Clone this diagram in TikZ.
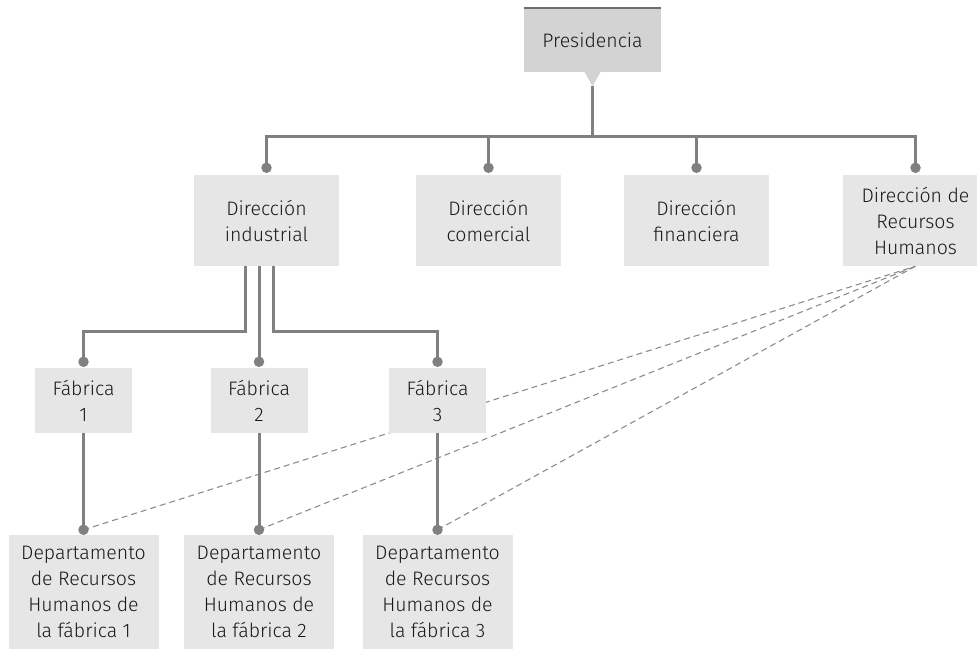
\documentclass[tikz,border=0pt]{standalone}
\usepackage{fontspec}
\setmainfont{Fira Sans}[UprightFont=* Light]
\usetikzlibrary{calc,backgrounds}
\definecolor{linegray}{HTML}{808080}
\definecolor{dashgray}{HTML}{8C8C8C}
\definecolor{boxgray}{HTML}{E6E6E6}
\definecolor{presgray}{HTML}{D3D3D3}
\definecolor{topgray}{HTML}{6E6E6E}

\begin{document}
\begin{tikzpicture}[
  x=1pt,y=-1pt,
  line join=miter,
  box/.style={fill=boxgray,inner sep=0pt,align=center,text=black!90,
    font=\fontsize{19.5}{26}\selectfont},
  dirbox/.style={box,minimum width=145pt,minimum height=91pt},
  fabbox/.style={box,minimum width=97pt,minimum height=65pt},
  deptbox/.style={box,minimum width=150pt,minimum height=114pt},
  link/.style={draw=linegray,line width=3pt},
  rhlink/.style={draw=dashgray,line width=1.1pt,dash pattern=on 6pt off 4pt},
  dot/.style={circle,fill=linegray,inner sep=0pt,minimum size=10.5pt}
]
  \useasboundingbox (0,0) rectangle (977,650);

  % Presidencia
  \node[box,fill=presgray,minimum width=137pt,minimum height=64pt] (pres) at (592.5,40) {Presidencia};
  \draw[topgray,line width=2pt] (pres.north west) -- (pres.north east);
  \fill[presgray] ($(pres.south)+(-8,0)$) -- ($(pres.south)+(8,0)$)
    -- ($(pres.south)+(0,14)$) coordinate (tip) -- cycle;

  % Direcciones
  \node[dirbox] (ind) at (266.5,220.5) {Dirección\\industrial};
  \node[dirbox] (com) at (488.5,220.5) {Dirección\\comercial};
  \node[dirbox] (fin) at (696.5,220.5) {Dirección\\financiera};
  \node[dirbox] (rh)  at (915.5,220.5) {Dirección de\\Recursos\\Humanos};

  % Fabricas
  \node[fabbox] (f1) at (83.5,400.5) {Fábrica\\1};
  \node[fabbox] (f2) at (259,400.5)  {Fábrica\\2};
  \node[fabbox] (f3) at (437.5,400.5) {Fábrica\\3};

  % Departamentos
  \node[deptbox] (d1) at (83.5,592) {Departamento\\de Recursos\\Humanos de\\la fábrica 1};
  \node[deptbox] (d2) at (259,592)  {Departamento\\de Recursos\\Humanos de\\la fábrica 2};
  \node[deptbox] (d3) at (437.5,592) {Departamento\\de Recursos\\Humanos de\\la fábrica 3};

  % Dot positions
  \foreach \n in {ind,com,fin,rh}
    \coordinate (\n-dot) at ($(\n.north)+(0,-7)$);
  \foreach \n in {f1,f2,f3}
    \coordinate (\n-dot) at ($(\n.north)+(0,-6)$);
  \foreach \n in {d1,d2,d3}
    \coordinate (\n-dot) at ($(\n.north)+(0,-5)$);

  % Dotted staff links to RRHH
  \begin{scope}[on background layer]
    \foreach \n in {d1,d2,d3}
      \draw[rhlink] (\n-dot) -- (rh.south);
  \end{scope}

  % Top hierarchy
  \draw[link] (tip) -- ++(0,50) coordinate (bus);
  \draw[link] (ind-dot) -- (ind-dot |- bus) -- (rh-dot |- bus) -- (rh-dot);
  \draw[link] (com-dot |- bus) -- (com-dot);
  \draw[link] (fin-dot |- bus) -- (fin-dot);

  % Industrial to fabricas
  \draw[link] ($(ind.south)+(-21.5,0)$) -- ++(0,65) -| (f1-dot);
  \draw[link] (ind.south -| f2-dot) -- (f2-dot);
  \draw[link] ($(ind.south)+(6.5,0)$) -- ++(0,65) -| (f3-dot);

  % Fabricas to departamentos
  \foreach \f/\d in {f1/d1,f2/d2,f3/d3}
    \draw[link] (\f.south) -- (\d-dot);

  % Dots
  \foreach \n in {ind,com,fin,rh,f1,f2,f3,d1,d2,d3}
    \node[dot] at (\n-dot) {};
\end{tikzpicture}
\end{document}
